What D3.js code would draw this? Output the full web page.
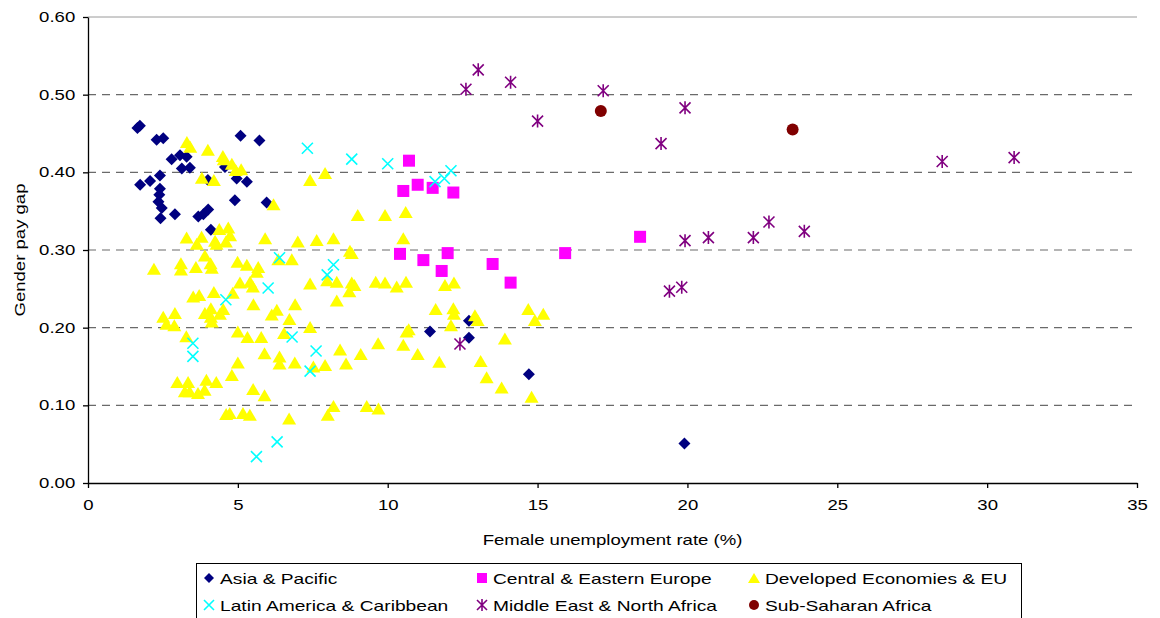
<!DOCTYPE html>
<html>
<head>
<meta charset="utf-8">
<script src="https://cdn.jsdelivr.net/npm/d3@7"></script>
<style>
  body { margin: 0; background: #fff; }
  #chart { width: 1160px; height: 618px; }
  text { font-family: "Liberation Sans", Arial, sans-serif; }
</style>
</head>
<body>
<div id="chart"></div>
<script>
// data: [female unemployment %, gender pay gap]
const asiaPacific = [[1.65,0.457],[1.73,0.460],[2.29,0.442],[2.51,0.444],[5.09,0.447],[5.72,0.441],
  [2.79,0.417],[3.07,0.422],[3.29,0.420],[3.13,0.405],[3.40,0.406],[4.57,0.407],[4.96,0.392],[5.30,0.388],
  [4.00,0.390],[2.40,0.396],[2.07,0.389],[1.74,0.384],[2.40,0.379],[2.38,0.371],[2.35,0.362],[2.46,0.354],
  [2.42,0.341],[2.90,0.346],[3.68,0.343],[3.85,0.346],[4.01,0.352],[4.10,0.326],[4.90,0.364],[5.96,0.361],
  [11.41,0.195],[12.71,0.209],[12.71,0.187],[14.71,0.140],[19.90,0.051]];
const centralEurope = [[10.71,0.415],[10.52,0.376],[11.00,0.384],[11.50,0.380],[12.19,0.374],[10.41,0.295],
  [11.19,0.287],[12.00,0.296],[11.80,0.273],[13.50,0.282],[14.10,0.258],[15.92,0.296],[18.42,0.317]];
const developed = [[3.30,0.439],[3.41,0.433],[4.00,0.429],[4.50,0.421],[4.53,0.417],[4.80,0.411],[4.93,0.403],
  [5.11,0.404],[3.80,0.393],[4.20,0.390],[6.19,0.359],
  [3.29,0.316],[3.63,0.308],[3.79,0.317],[4.24,0.312],[4.38,0.327],[4.68,0.329],[4.74,0.319],[4.60,0.311],
  [4.29,0.308],[5.91,0.315],[7.00,0.311],[7.63,0.313],
  [2.20,0.276],[3.10,0.283],[3.10,0.275],[3.60,0.278],[3.90,0.293],[4.09,0.283],[4.13,0.277],[4.99,0.285],
  [5.30,0.281],[5.68,0.278],[5.63,0.272],[6.35,0.288],[6.80,0.288],[7.41,0.257],
  [3.51,0.240],[3.71,0.242],[4.20,0.246],[5.07,0.258],[5.41,0.259],[5.50,0.253],[4.83,0.245],[5.52,0.230],[6.91,0.230],
  [2.51,0.214],[2.62,0.205],[2.90,0.219],[2.88,0.203],[3.90,0.219],[4.10,0.225],[4.10,0.214],[4.40,0.218],
  [4.51,0.224],[4.13,0.208],[6.13,0.217],[6.30,0.223],[6.72,0.211],[7.41,0.201],
  [3.28,0.189],[5.00,0.195],[5.32,0.188],[5.78,0.188],[6.54,0.193],[5.00,0.155],[4.80,0.139],[5.51,0.121],
  [5.89,0.113],[5.89,0.167],[6.39,0.163],[6.39,0.154],[6.90,0.155],
  [2.98,0.130],[3.23,0.118],[3.34,0.130],[3.39,0.118],[3.67,0.116],[3.95,0.133],[3.89,0.120],[4.28,0.130],
  [4.61,0.089],[4.73,0.090],[5.17,0.090],[5.40,0.088],[6.71,0.083],
  [7.41,0.390],[7.91,0.399],[9.00,0.345],[9.91,0.345],[10.60,0.349],[10.52,0.315],[8.19,0.315],[8.74,0.299],
  [8.80,0.296],[7.98,0.261],[8.30,0.259],[8.80,0.258],[8.89,0.255],[8.72,0.247],[9.60,0.259],[9.91,0.258],
  [10.30,0.253],[10.61,0.259],[11.91,0.255],[12.21,0.258],[8.30,0.235],[11.60,0.224],[12.19,0.225],[12.21,0.218],
  [12.11,0.203],[12.91,0.216],[13.00,0.210],[14.69,0.224],[15.19,0.218],[14.91,0.210],[10.63,0.195],[10.70,0.198],
  [10.52,0.178],[13.91,0.186],[9.68,0.180],[8.41,0.172],[9.10,0.166],[11.00,0.166],[11.72,0.156],[13.10,0.157],
  [13.30,0.136],[13.80,0.123],[14.80,0.111],[7.91,0.152],[8.61,0.154],[7.52,0.150],[8.19,0.099],[8.00,0.088],
  [9.30,0.099],[9.69,0.096]];
const latinAmerica = [[7.32,0.431],[8.80,0.417],[10.00,0.411],[11.58,0.388],[11.89,0.392],[12.11,0.402],
  [8.19,0.281],[7.98,0.268],[6.81,0.188],[7.61,0.170],[7.41,0.144],[6.39,0.290],[6.01,0.251],[4.60,0.236],
  [3.50,0.180],[3.50,0.163],[6.31,0.053],[5.62,0.034]];
const middleEast = [[12.61,0.507],[13.02,0.532],[14.10,0.516],[17.19,0.505],[15.00,0.466],[19.92,0.483],
  [19.12,0.437],[19.92,0.312],[20.70,0.316],[22.20,0.316],[22.72,0.336],[23.90,0.324],[19.40,0.247],
  [19.81,0.252],[28.50,0.414],[30.90,0.419],[12.41,0.179]];
const subSaharan = [[17.11,0.479],[23.51,0.455]];

const xTicks = [0, 5, 10, 15, 20, 25, 30, 35];
const yTicks = [0, 0.1, 0.2, 0.3, 0.4, 0.5, 0.6];

const series = [
  { name: "Asia & Pacific", data: asiaPacific, color: "#000080", shape: "diamond" },
  { name: "Central & Eastern Europe", data: centralEurope, color: "#FF00FF", shape: "square" },
  { name: "Developed Economies & EU", data: developed, color: "#FFFF00", shape: "triangle" },
  { name: "Latin America & Caribbean", data: latinAmerica, color: "#00FFFF", shape: "x" },
  { name: "Middle East & North Africa", data: middleEast, color: "#800080", shape: "star" },
  { name: "Sub-Saharan Africa", data: subSaharan, color: "#800000", shape: "circle" }
];

// the original text looks stretched sideways
const sx = 1.28;
const fontPx = "14.5px";

const width = 1160, height = 618;
const margin = { top: 17, right: 23, bottom: 135, left: 88 };
const plotW = width - margin.left - margin.right;
const plotH = height - margin.top - margin.bottom;

const svg = d3.select("#chart").append("svg")
  .attr("width", width).attr("height", height);

const xScale = d3.scaleLinear().domain([0, 35]).range([margin.left, margin.left + plotW]);
const yScale = d3.scaleLinear().domain([0, 0.6]).range([margin.top + plotH, margin.top]);

// gridlines
svg.append("g").selectAll("line")
  .data(yTicks.filter(d => d > 0 && d < 0.6))
  .enter().append("line")
  .attr("x1", xScale(0)).attr("x2", xScale(35))
  .attr("y1", d => yScale(d)).attr("y2", d => yScale(d))
  .attr("stroke", "#6a6a6a").attr("stroke-width", 1.2)
  .attr("stroke-dasharray", "8,6");
svg.append("line")
  .attr("x1", xScale(0)).attr("x2", xScale(35))
  .attr("y1", yScale(0.6)).attr("y2", yScale(0.6))
  .attr("stroke", "#9a9a9a").attr("stroke-width", 1);

// axes
const xAxis = d3.axisBottom(xScale).tickValues(xTicks).tickSize(5).tickSizeOuter(0).tickPadding(12);
svg.append("g").attr("class", "xAxis")
  .attr("transform", `translate(0,${yScale(0)})`)
  .call(xAxis);
const yAxis = d3.axisLeft(yScale).tickValues(yTicks).tickFormat(d3.format(".2f")).tickSize(5).tickSizeOuter(0).tickPadding(5);
svg.append("g").attr("class", "yAxis")
  .attr("transform", `translate(${xScale(0)},0)`)
  .call(yAxis);
svg.selectAll(".xAxis path, .yAxis path, .xAxis line, .yAxis line")
  .attr("stroke", "#000").attr("stroke-width", 1.3);
svg.selectAll(".xAxis text, .yAxis text")
  .style("font-size", fontPx).style("fill", "#000")
  .style("font-family", "'Liberation Sans', Arial, sans-serif")
  .attr("transform", `scale(${sx},1)`);

svg.append("text")
  .attr("transform", `translate(${xScale(17.5)},545) scale(${sx},1)`)
  .style("text-anchor", "middle").style("font-size", fontPx)
  .text("Female unemployment rate (%)");
svg.append("text")
  .attr("transform", `translate(25,${yScale(0.3)}) rotate(-90) scale(${sx},1)`)
  .style("text-anchor", "middle").style("font-size", fontPx)
  .text("Gender pay gap");

// marker drawing
function drawMarker(g, shape, color, size) {
  const s = size / 2;
  if (shape === "diamond") {
    g.append("path").attr("d", `M0,${-s}L${s},0L0,${s}L${-s},0Z`).attr("fill", color);
  } else if (shape === "square") {
    g.append("rect").attr("x", -s).attr("y", -s).attr("width", size).attr("height", size).attr("fill", color);
  } else if (shape === "triangle") {
    g.append("path").attr("d", `M0,${-s}L${s + 1},${s}L${-s - 1},${s}Z`).attr("fill", color);
  } else if (shape === "x") {
    g.append("path").attr("d", `M${-s},${-s}L${s},${s}M${s},${-s}L${-s},${s}`)
      .attr("stroke", color).attr("stroke-width", 1.6).attr("fill", "none");
  } else if (shape === "star") {
    g.append("path").attr("d", `M${-s},${-s}L${s},${s}M${s},${-s}L${-s},${s}M0,${-s - 1}L0,${s + 1}`)
      .attr("stroke", color).attr("stroke-width", 1.6).attr("fill", "none");
  } else if (shape === "circle") {
    g.append("circle").attr("r", s).attr("fill", color);
  }
}

series.forEach(ser => {
  const size = ser.shape === "x" || ser.shape === "star" ? 11 : 12;
  svg.append("g").selectAll("g")
    .data(ser.data)
    .enter().append("g")
    .attr("transform", d => `translate(${xScale(d[0])},${yScale(d[1])})`)
    .each(function () { drawMarker(d3.select(this), ser.shape, ser.color, size); });
});

// legend: three columns, two rows
const legend = svg.append("g");
legend.append("rect")
  .attr("x", 196.5).attr("y", 563.5).attr("width", 825).attr("height", 60)
  .attr("fill", "#fff").attr("stroke", "#000").attr("stroke-width", 1);
const legendCols = [209, 482, 754];
const legendRows = [578, 605];
series.forEach((ser, i) => {
  const item = legend.append("g")
    .attr("transform", `translate(${legendCols[i % 3]},${legendRows[Math.floor(i / 3)]})`);
  drawMarker(item, ser.shape, ser.color, 10);
  item.append("text")
    .attr("transform", `translate(11,6) scale(${sx},1)`)
    .style("font-size", "15px").text(ser.name);
});
</script>
</body>
</html>
